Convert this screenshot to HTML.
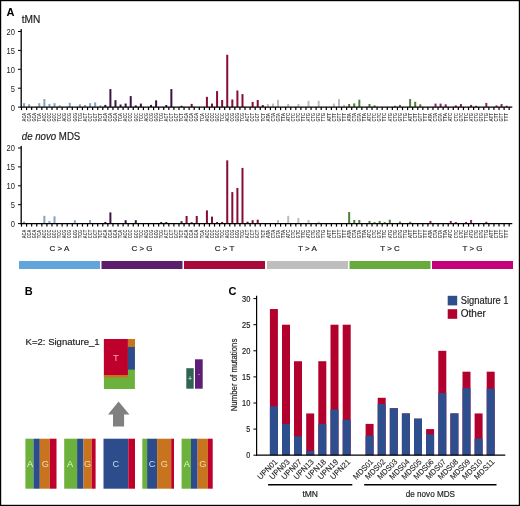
<!DOCTYPE html><html><head><meta charset="utf-8"><style>html,body{margin:0;padding:0;background:#fff}svg{display:block;will-change:transform}text{font-family:"Liberation Sans",sans-serif}.b{stroke:#222;stroke-width:0.18px}</style></head><body>
<svg width="520" height="506" viewBox="0 0 520 506">
<rect x="0" y="0" width="520" height="506" fill="#fff"/>
<text x="6.6" y="16.2" font-size="11" font-weight="bold" fill="#000">A</text>
<text class="b" x="21.7" y="23.4" font-size="10" fill="#222" textLength="18.6" lengthAdjust="spacingAndGlyphs">tMN</text>
<line x1="21.2" y1="29" x2="21.2" y2="107.69999999999999" stroke="#000" stroke-width="1.3"/>
<line x1="18" y1="107.10" x2="21" y2="107.10" stroke="#000" stroke-width="1"/>
<text x="10.80" y="110.50" font-size="9" fill="#222" textLength="4.2" lengthAdjust="spacingAndGlyphs">0</text>
<line x1="18" y1="88.20" x2="21" y2="88.20" stroke="#000" stroke-width="1"/>
<text x="10.80" y="91.60" font-size="9" fill="#222" textLength="4.2" lengthAdjust="spacingAndGlyphs">5</text>
<line x1="18" y1="69.30" x2="21" y2="69.30" stroke="#000" stroke-width="1"/>
<text x="6.60" y="72.70" font-size="9" fill="#222" textLength="8.4" lengthAdjust="spacingAndGlyphs">10</text>
<line x1="18" y1="50.40" x2="21" y2="50.40" stroke="#000" stroke-width="1"/>
<text x="6.60" y="53.80" font-size="9" fill="#222" textLength="8.4" lengthAdjust="spacingAndGlyphs">15</text>
<line x1="18" y1="31.50" x2="21" y2="31.50" stroke="#000" stroke-width="1"/>
<text x="6.60" y="34.90" font-size="9" fill="#222" textLength="8.4" lengthAdjust="spacingAndGlyphs">20</text>
<rect x="23.04" y="103.15" width="2.0" height="3.85" fill="#86a2c0"/>
<rect x="28.12" y="104.27" width="2.0" height="2.73" fill="#86a2c0"/>
<rect x="38.28" y="103.15" width="2.0" height="3.85" fill="#86a2c0"/>
<rect x="43.36" y="99.06" width="2.0" height="7.94" fill="#86a2c0"/>
<rect x="48.44" y="103.90" width="2.0" height="3.10" fill="#86a2c0"/>
<rect x="53.52" y="103.15" width="2.0" height="3.85" fill="#86a2c0"/>
<rect x="58.60" y="105.38" width="2.0" height="1.62" fill="#86a2c0"/>
<rect x="68.76" y="102.78" width="2.0" height="4.22" fill="#86a2c0"/>
<rect x="78.92" y="104.27" width="2.0" height="2.73" fill="#86a2c0"/>
<rect x="84.00" y="105.01" width="2.0" height="1.99" fill="#86a2c0"/>
<rect x="89.08" y="103.15" width="2.0" height="3.85" fill="#86a2c0"/>
<rect x="94.16" y="102.41" width="2.0" height="4.59" fill="#86a2c0"/>
<rect x="99.24" y="105.38" width="2.0" height="1.62" fill="#86a2c0"/>
<rect x="104.32" y="104.90" width="2.0" height="2.10" fill="#3a1444"/>
<rect x="109.40" y="89.09" width="2.0" height="17.91" fill="#3a1444"/>
<rect x="114.48" y="100.18" width="2.0" height="6.82" fill="#3a1444"/>
<rect x="119.56" y="104.49" width="2.0" height="2.51" fill="#3a1444"/>
<rect x="124.64" y="103.52" width="2.0" height="3.48" fill="#3a1444"/>
<rect x="129.72" y="96.08" width="2.0" height="10.92" fill="#3a1444"/>
<rect x="134.80" y="105.38" width="2.0" height="1.62" fill="#3a1444"/>
<rect x="139.88" y="103.60" width="2.0" height="3.40" fill="#3a1444"/>
<rect x="150.04" y="104.90" width="2.0" height="2.10" fill="#3a1444"/>
<rect x="155.12" y="100.36" width="2.0" height="6.64" fill="#3a1444"/>
<rect x="165.28" y="105.01" width="2.0" height="1.99" fill="#3a1444"/>
<rect x="170.36" y="89.09" width="2.0" height="17.91" fill="#3a1444"/>
<rect x="180.52" y="105.76" width="2.0" height="1.24" fill="#3a1444"/>
<rect x="190.68" y="103.90" width="2.0" height="3.10" fill="#880c34"/>
<rect x="205.92" y="96.83" width="2.0" height="10.17" fill="#880c34"/>
<rect x="211.00" y="103.60" width="2.0" height="3.40" fill="#880c34"/>
<rect x="216.08" y="91.10" width="2.0" height="15.90" fill="#880c34"/>
<rect x="221.16" y="99.99" width="2.0" height="7.01" fill="#880c34"/>
<rect x="226.24" y="54.79" width="2.0" height="52.21" fill="#880c34"/>
<rect x="231.32" y="99.51" width="2.0" height="7.49" fill="#880c34"/>
<rect x="236.40" y="90.50" width="2.0" height="16.50" fill="#880c34"/>
<rect x="241.48" y="94.11" width="2.0" height="12.89" fill="#880c34"/>
<rect x="251.64" y="101.89" width="2.0" height="5.11" fill="#880c34"/>
<rect x="256.72" y="99.99" width="2.0" height="7.01" fill="#880c34"/>
<rect x="261.80" y="105.09" width="2.0" height="1.91" fill="#880c34"/>
<rect x="266.88" y="104.01" width="2.0" height="2.99" fill="#bcbcbc"/>
<rect x="271.96" y="103.60" width="2.0" height="3.40" fill="#bcbcbc"/>
<rect x="277.04" y="99.80" width="2.0" height="7.20" fill="#bcbcbc"/>
<rect x="287.20" y="104.01" width="2.0" height="2.99" fill="#bcbcbc"/>
<rect x="297.36" y="104.01" width="2.0" height="2.99" fill="#bcbcbc"/>
<rect x="307.52" y="100.81" width="2.0" height="6.19" fill="#bcbcbc"/>
<rect x="317.68" y="100.81" width="2.0" height="6.19" fill="#bcbcbc"/>
<rect x="332.92" y="103.60" width="2.0" height="3.40" fill="#bcbcbc"/>
<rect x="338.00" y="99.06" width="2.0" height="7.94" fill="#bcbcbc"/>
<rect x="343.08" y="104.90" width="2.0" height="2.10" fill="#bcbcbc"/>
<rect x="348.16" y="104.01" width="2.0" height="2.99" fill="#4f7f3c"/>
<rect x="353.24" y="103.41" width="2.0" height="3.59" fill="#4f7f3c"/>
<rect x="358.32" y="99.69" width="2.0" height="7.31" fill="#4f7f3c"/>
<rect x="368.48" y="104.01" width="2.0" height="2.99" fill="#4f7f3c"/>
<rect x="373.56" y="105.31" width="2.0" height="1.69" fill="#4f7f3c"/>
<rect x="393.88" y="105.76" width="2.0" height="1.24" fill="#4f7f3c"/>
<rect x="398.96" y="104.90" width="2.0" height="2.10" fill="#4f7f3c"/>
<rect x="409.12" y="99.06" width="2.0" height="7.94" fill="#4f7f3c"/>
<rect x="414.20" y="101.78" width="2.0" height="5.22" fill="#4f7f3c"/>
<rect x="419.28" y="104.27" width="2.0" height="2.73" fill="#4f7f3c"/>
<rect x="434.52" y="103.60" width="2.0" height="3.40" fill="#8e2266"/>
<rect x="439.60" y="103.60" width="2.0" height="3.40" fill="#8e2266"/>
<rect x="444.68" y="104.27" width="2.0" height="2.73" fill="#8e2266"/>
<rect x="454.84" y="105.38" width="2.0" height="1.62" fill="#8e2266"/>
<rect x="459.92" y="104.01" width="2.0" height="2.99" fill="#8e2266"/>
<rect x="470.08" y="104.90" width="2.0" height="2.10" fill="#8e2266"/>
<rect x="475.16" y="105.76" width="2.0" height="1.24" fill="#8e2266"/>
<rect x="485.32" y="102.89" width="2.0" height="4.11" fill="#8e2266"/>
<rect x="495.48" y="105.38" width="2.0" height="1.62" fill="#8e2266"/>
<rect x="500.56" y="104.01" width="2.0" height="2.99" fill="#8e2266"/>
<rect x="505.64" y="105.76" width="2.0" height="1.24" fill="#8e2266"/>
<line x1="20.6" y1="107.1" x2="512.3" y2="107.1" stroke="#000" stroke-width="1.3"/>
<line x1="21.50" y1="107.1" x2="21.50" y2="110.1" stroke="#000" stroke-width="1.2"/>
<line x1="26.58" y1="107.1" x2="26.58" y2="110.1" stroke="#000" stroke-width="1.2"/>
<line x1="31.66" y1="107.1" x2="31.66" y2="110.1" stroke="#000" stroke-width="1.2"/>
<line x1="36.74" y1="107.1" x2="36.74" y2="110.1" stroke="#000" stroke-width="1.2"/>
<line x1="41.82" y1="107.1" x2="41.82" y2="110.1" stroke="#000" stroke-width="1.2"/>
<line x1="46.90" y1="107.1" x2="46.90" y2="110.1" stroke="#000" stroke-width="1.2"/>
<line x1="51.98" y1="107.1" x2="51.98" y2="110.1" stroke="#000" stroke-width="1.2"/>
<line x1="57.06" y1="107.1" x2="57.06" y2="110.1" stroke="#000" stroke-width="1.2"/>
<line x1="62.14" y1="107.1" x2="62.14" y2="110.1" stroke="#000" stroke-width="1.2"/>
<line x1="67.22" y1="107.1" x2="67.22" y2="110.1" stroke="#000" stroke-width="1.2"/>
<line x1="72.30" y1="107.1" x2="72.30" y2="110.1" stroke="#000" stroke-width="1.2"/>
<line x1="77.38" y1="107.1" x2="77.38" y2="110.1" stroke="#000" stroke-width="1.2"/>
<line x1="82.46" y1="107.1" x2="82.46" y2="110.1" stroke="#000" stroke-width="1.2"/>
<line x1="87.54" y1="107.1" x2="87.54" y2="110.1" stroke="#000" stroke-width="1.2"/>
<line x1="92.62" y1="107.1" x2="92.62" y2="110.1" stroke="#000" stroke-width="1.2"/>
<line x1="97.70" y1="107.1" x2="97.70" y2="110.1" stroke="#000" stroke-width="1.2"/>
<line x1="102.78" y1="107.1" x2="102.78" y2="110.1" stroke="#000" stroke-width="1.2"/>
<line x1="107.86" y1="107.1" x2="107.86" y2="110.1" stroke="#000" stroke-width="1.2"/>
<line x1="112.94" y1="107.1" x2="112.94" y2="110.1" stroke="#000" stroke-width="1.2"/>
<line x1="118.02" y1="107.1" x2="118.02" y2="110.1" stroke="#000" stroke-width="1.2"/>
<line x1="123.10" y1="107.1" x2="123.10" y2="110.1" stroke="#000" stroke-width="1.2"/>
<line x1="128.18" y1="107.1" x2="128.18" y2="110.1" stroke="#000" stroke-width="1.2"/>
<line x1="133.26" y1="107.1" x2="133.26" y2="110.1" stroke="#000" stroke-width="1.2"/>
<line x1="138.34" y1="107.1" x2="138.34" y2="110.1" stroke="#000" stroke-width="1.2"/>
<line x1="143.42" y1="107.1" x2="143.42" y2="110.1" stroke="#000" stroke-width="1.2"/>
<line x1="148.50" y1="107.1" x2="148.50" y2="110.1" stroke="#000" stroke-width="1.2"/>
<line x1="153.58" y1="107.1" x2="153.58" y2="110.1" stroke="#000" stroke-width="1.2"/>
<line x1="158.66" y1="107.1" x2="158.66" y2="110.1" stroke="#000" stroke-width="1.2"/>
<line x1="163.74" y1="107.1" x2="163.74" y2="110.1" stroke="#000" stroke-width="1.2"/>
<line x1="168.82" y1="107.1" x2="168.82" y2="110.1" stroke="#000" stroke-width="1.2"/>
<line x1="173.90" y1="107.1" x2="173.90" y2="110.1" stroke="#000" stroke-width="1.2"/>
<line x1="178.98" y1="107.1" x2="178.98" y2="110.1" stroke="#000" stroke-width="1.2"/>
<line x1="184.06" y1="107.1" x2="184.06" y2="110.1" stroke="#000" stroke-width="1.2"/>
<line x1="189.14" y1="107.1" x2="189.14" y2="110.1" stroke="#000" stroke-width="1.2"/>
<line x1="194.22" y1="107.1" x2="194.22" y2="110.1" stroke="#000" stroke-width="1.2"/>
<line x1="199.30" y1="107.1" x2="199.30" y2="110.1" stroke="#000" stroke-width="1.2"/>
<line x1="204.38" y1="107.1" x2="204.38" y2="110.1" stroke="#000" stroke-width="1.2"/>
<line x1="209.46" y1="107.1" x2="209.46" y2="110.1" stroke="#000" stroke-width="1.2"/>
<line x1="214.54" y1="107.1" x2="214.54" y2="110.1" stroke="#000" stroke-width="1.2"/>
<line x1="219.62" y1="107.1" x2="219.62" y2="110.1" stroke="#000" stroke-width="1.2"/>
<line x1="224.70" y1="107.1" x2="224.70" y2="110.1" stroke="#000" stroke-width="1.2"/>
<line x1="229.78" y1="107.1" x2="229.78" y2="110.1" stroke="#000" stroke-width="1.2"/>
<line x1="234.86" y1="107.1" x2="234.86" y2="110.1" stroke="#000" stroke-width="1.2"/>
<line x1="239.94" y1="107.1" x2="239.94" y2="110.1" stroke="#000" stroke-width="1.2"/>
<line x1="245.02" y1="107.1" x2="245.02" y2="110.1" stroke="#000" stroke-width="1.2"/>
<line x1="250.10" y1="107.1" x2="250.10" y2="110.1" stroke="#000" stroke-width="1.2"/>
<line x1="255.18" y1="107.1" x2="255.18" y2="110.1" stroke="#000" stroke-width="1.2"/>
<line x1="260.26" y1="107.1" x2="260.26" y2="110.1" stroke="#000" stroke-width="1.2"/>
<line x1="265.34" y1="107.1" x2="265.34" y2="110.1" stroke="#000" stroke-width="1.2"/>
<line x1="270.42" y1="107.1" x2="270.42" y2="110.1" stroke="#000" stroke-width="1.2"/>
<line x1="275.50" y1="107.1" x2="275.50" y2="110.1" stroke="#000" stroke-width="1.2"/>
<line x1="280.58" y1="107.1" x2="280.58" y2="110.1" stroke="#000" stroke-width="1.2"/>
<line x1="285.66" y1="107.1" x2="285.66" y2="110.1" stroke="#000" stroke-width="1.2"/>
<line x1="290.74" y1="107.1" x2="290.74" y2="110.1" stroke="#000" stroke-width="1.2"/>
<line x1="295.82" y1="107.1" x2="295.82" y2="110.1" stroke="#000" stroke-width="1.2"/>
<line x1="300.90" y1="107.1" x2="300.90" y2="110.1" stroke="#000" stroke-width="1.2"/>
<line x1="305.98" y1="107.1" x2="305.98" y2="110.1" stroke="#000" stroke-width="1.2"/>
<line x1="311.06" y1="107.1" x2="311.06" y2="110.1" stroke="#000" stroke-width="1.2"/>
<line x1="316.14" y1="107.1" x2="316.14" y2="110.1" stroke="#000" stroke-width="1.2"/>
<line x1="321.22" y1="107.1" x2="321.22" y2="110.1" stroke="#000" stroke-width="1.2"/>
<line x1="326.30" y1="107.1" x2="326.30" y2="110.1" stroke="#000" stroke-width="1.2"/>
<line x1="331.38" y1="107.1" x2="331.38" y2="110.1" stroke="#000" stroke-width="1.2"/>
<line x1="336.46" y1="107.1" x2="336.46" y2="110.1" stroke="#000" stroke-width="1.2"/>
<line x1="341.54" y1="107.1" x2="341.54" y2="110.1" stroke="#000" stroke-width="1.2"/>
<line x1="346.62" y1="107.1" x2="346.62" y2="110.1" stroke="#000" stroke-width="1.2"/>
<line x1="351.70" y1="107.1" x2="351.70" y2="110.1" stroke="#000" stroke-width="1.2"/>
<line x1="356.78" y1="107.1" x2="356.78" y2="110.1" stroke="#000" stroke-width="1.2"/>
<line x1="361.86" y1="107.1" x2="361.86" y2="110.1" stroke="#000" stroke-width="1.2"/>
<line x1="366.94" y1="107.1" x2="366.94" y2="110.1" stroke="#000" stroke-width="1.2"/>
<line x1="372.02" y1="107.1" x2="372.02" y2="110.1" stroke="#000" stroke-width="1.2"/>
<line x1="377.10" y1="107.1" x2="377.10" y2="110.1" stroke="#000" stroke-width="1.2"/>
<line x1="382.18" y1="107.1" x2="382.18" y2="110.1" stroke="#000" stroke-width="1.2"/>
<line x1="387.26" y1="107.1" x2="387.26" y2="110.1" stroke="#000" stroke-width="1.2"/>
<line x1="392.34" y1="107.1" x2="392.34" y2="110.1" stroke="#000" stroke-width="1.2"/>
<line x1="397.42" y1="107.1" x2="397.42" y2="110.1" stroke="#000" stroke-width="1.2"/>
<line x1="402.50" y1="107.1" x2="402.50" y2="110.1" stroke="#000" stroke-width="1.2"/>
<line x1="407.58" y1="107.1" x2="407.58" y2="110.1" stroke="#000" stroke-width="1.2"/>
<line x1="412.66" y1="107.1" x2="412.66" y2="110.1" stroke="#000" stroke-width="1.2"/>
<line x1="417.74" y1="107.1" x2="417.74" y2="110.1" stroke="#000" stroke-width="1.2"/>
<line x1="422.82" y1="107.1" x2="422.82" y2="110.1" stroke="#000" stroke-width="1.2"/>
<line x1="427.90" y1="107.1" x2="427.90" y2="110.1" stroke="#000" stroke-width="1.2"/>
<line x1="432.98" y1="107.1" x2="432.98" y2="110.1" stroke="#000" stroke-width="1.2"/>
<line x1="438.06" y1="107.1" x2="438.06" y2="110.1" stroke="#000" stroke-width="1.2"/>
<line x1="443.14" y1="107.1" x2="443.14" y2="110.1" stroke="#000" stroke-width="1.2"/>
<line x1="448.22" y1="107.1" x2="448.22" y2="110.1" stroke="#000" stroke-width="1.2"/>
<line x1="453.30" y1="107.1" x2="453.30" y2="110.1" stroke="#000" stroke-width="1.2"/>
<line x1="458.38" y1="107.1" x2="458.38" y2="110.1" stroke="#000" stroke-width="1.2"/>
<line x1="463.46" y1="107.1" x2="463.46" y2="110.1" stroke="#000" stroke-width="1.2"/>
<line x1="468.54" y1="107.1" x2="468.54" y2="110.1" stroke="#000" stroke-width="1.2"/>
<line x1="473.62" y1="107.1" x2="473.62" y2="110.1" stroke="#000" stroke-width="1.2"/>
<line x1="478.70" y1="107.1" x2="478.70" y2="110.1" stroke="#000" stroke-width="1.2"/>
<line x1="483.78" y1="107.1" x2="483.78" y2="110.1" stroke="#000" stroke-width="1.2"/>
<line x1="488.86" y1="107.1" x2="488.86" y2="110.1" stroke="#000" stroke-width="1.2"/>
<line x1="493.94" y1="107.1" x2="493.94" y2="110.1" stroke="#000" stroke-width="1.2"/>
<line x1="499.02" y1="107.1" x2="499.02" y2="110.1" stroke="#000" stroke-width="1.2"/>
<line x1="504.10" y1="107.1" x2="504.10" y2="110.1" stroke="#000" stroke-width="1.2"/>
<line x1="509.18" y1="107.1" x2="509.18" y2="110.1" stroke="#000" stroke-width="1.2"/>
<text transform="translate(25.74,113) rotate(-90)" text-anchor="end" font-size="5" font-weight="bold" fill="#444" textLength="8.4" lengthAdjust="spacingAndGlyphs">ACA</text>
<text transform="translate(30.82,113) rotate(-90)" text-anchor="end" font-size="5" font-weight="bold" fill="#444" textLength="8.4" lengthAdjust="spacingAndGlyphs">CCA</text>
<text transform="translate(35.90,113) rotate(-90)" text-anchor="end" font-size="5" font-weight="bold" fill="#444" textLength="8.4" lengthAdjust="spacingAndGlyphs">GCA</text>
<text transform="translate(40.98,113) rotate(-90)" text-anchor="end" font-size="5" font-weight="bold" fill="#444" textLength="8.4" lengthAdjust="spacingAndGlyphs">TCA</text>
<text transform="translate(46.06,113) rotate(-90)" text-anchor="end" font-size="5" font-weight="bold" fill="#444" textLength="8.4" lengthAdjust="spacingAndGlyphs">ACC</text>
<text transform="translate(51.14,113) rotate(-90)" text-anchor="end" font-size="5" font-weight="bold" fill="#444" textLength="8.4" lengthAdjust="spacingAndGlyphs">CCC</text>
<text transform="translate(56.22,113) rotate(-90)" text-anchor="end" font-size="5" font-weight="bold" fill="#444" textLength="8.4" lengthAdjust="spacingAndGlyphs">GCC</text>
<text transform="translate(61.30,113) rotate(-90)" text-anchor="end" font-size="5" font-weight="bold" fill="#444" textLength="8.4" lengthAdjust="spacingAndGlyphs">TCC</text>
<text transform="translate(66.38,113) rotate(-90)" text-anchor="end" font-size="5" font-weight="bold" fill="#444" textLength="8.4" lengthAdjust="spacingAndGlyphs">ACG</text>
<text transform="translate(71.46,113) rotate(-90)" text-anchor="end" font-size="5" font-weight="bold" fill="#444" textLength="8.4" lengthAdjust="spacingAndGlyphs">CCG</text>
<text transform="translate(76.54,113) rotate(-90)" text-anchor="end" font-size="5" font-weight="bold" fill="#444" textLength="8.4" lengthAdjust="spacingAndGlyphs">GCG</text>
<text transform="translate(81.62,113) rotate(-90)" text-anchor="end" font-size="5" font-weight="bold" fill="#444" textLength="8.4" lengthAdjust="spacingAndGlyphs">TCG</text>
<text transform="translate(86.70,113) rotate(-90)" text-anchor="end" font-size="5" font-weight="bold" fill="#444" textLength="8.4" lengthAdjust="spacingAndGlyphs">ACT</text>
<text transform="translate(91.78,113) rotate(-90)" text-anchor="end" font-size="5" font-weight="bold" fill="#444" textLength="8.4" lengthAdjust="spacingAndGlyphs">CCT</text>
<text transform="translate(96.86,113) rotate(-90)" text-anchor="end" font-size="5" font-weight="bold" fill="#444" textLength="8.4" lengthAdjust="spacingAndGlyphs">GCT</text>
<text transform="translate(101.94,113) rotate(-90)" text-anchor="end" font-size="5" font-weight="bold" fill="#444" textLength="8.4" lengthAdjust="spacingAndGlyphs">TCT</text>
<text transform="translate(107.02,113) rotate(-90)" text-anchor="end" font-size="5" font-weight="bold" fill="#444" textLength="8.4" lengthAdjust="spacingAndGlyphs">ACA</text>
<text transform="translate(112.10,113) rotate(-90)" text-anchor="end" font-size="5" font-weight="bold" fill="#444" textLength="8.4" lengthAdjust="spacingAndGlyphs">CCA</text>
<text transform="translate(117.18,113) rotate(-90)" text-anchor="end" font-size="5" font-weight="bold" fill="#444" textLength="8.4" lengthAdjust="spacingAndGlyphs">GCA</text>
<text transform="translate(122.26,113) rotate(-90)" text-anchor="end" font-size="5" font-weight="bold" fill="#444" textLength="8.4" lengthAdjust="spacingAndGlyphs">TCA</text>
<text transform="translate(127.34,113) rotate(-90)" text-anchor="end" font-size="5" font-weight="bold" fill="#444" textLength="8.4" lengthAdjust="spacingAndGlyphs">ACC</text>
<text transform="translate(132.42,113) rotate(-90)" text-anchor="end" font-size="5" font-weight="bold" fill="#444" textLength="8.4" lengthAdjust="spacingAndGlyphs">CCC</text>
<text transform="translate(137.50,113) rotate(-90)" text-anchor="end" font-size="5" font-weight="bold" fill="#444" textLength="8.4" lengthAdjust="spacingAndGlyphs">GCC</text>
<text transform="translate(142.58,113) rotate(-90)" text-anchor="end" font-size="5" font-weight="bold" fill="#444" textLength="8.4" lengthAdjust="spacingAndGlyphs">TCC</text>
<text transform="translate(147.66,113) rotate(-90)" text-anchor="end" font-size="5" font-weight="bold" fill="#444" textLength="8.4" lengthAdjust="spacingAndGlyphs">ACG</text>
<text transform="translate(152.74,113) rotate(-90)" text-anchor="end" font-size="5" font-weight="bold" fill="#444" textLength="8.4" lengthAdjust="spacingAndGlyphs">CCG</text>
<text transform="translate(157.82,113) rotate(-90)" text-anchor="end" font-size="5" font-weight="bold" fill="#444" textLength="8.4" lengthAdjust="spacingAndGlyphs">GCG</text>
<text transform="translate(162.90,113) rotate(-90)" text-anchor="end" font-size="5" font-weight="bold" fill="#444" textLength="8.4" lengthAdjust="spacingAndGlyphs">TCG</text>
<text transform="translate(167.98,113) rotate(-90)" text-anchor="end" font-size="5" font-weight="bold" fill="#444" textLength="8.4" lengthAdjust="spacingAndGlyphs">ACT</text>
<text transform="translate(173.06,113) rotate(-90)" text-anchor="end" font-size="5" font-weight="bold" fill="#444" textLength="8.4" lengthAdjust="spacingAndGlyphs">CCT</text>
<text transform="translate(178.14,113) rotate(-90)" text-anchor="end" font-size="5" font-weight="bold" fill="#444" textLength="8.4" lengthAdjust="spacingAndGlyphs">GCT</text>
<text transform="translate(183.22,113) rotate(-90)" text-anchor="end" font-size="5" font-weight="bold" fill="#444" textLength="8.4" lengthAdjust="spacingAndGlyphs">TCT</text>
<text transform="translate(188.30,113) rotate(-90)" text-anchor="end" font-size="5" font-weight="bold" fill="#444" textLength="8.4" lengthAdjust="spacingAndGlyphs">ACA</text>
<text transform="translate(193.38,113) rotate(-90)" text-anchor="end" font-size="5" font-weight="bold" fill="#444" textLength="8.4" lengthAdjust="spacingAndGlyphs">CCA</text>
<text transform="translate(198.46,113) rotate(-90)" text-anchor="end" font-size="5" font-weight="bold" fill="#444" textLength="8.4" lengthAdjust="spacingAndGlyphs">GCA</text>
<text transform="translate(203.54,113) rotate(-90)" text-anchor="end" font-size="5" font-weight="bold" fill="#444" textLength="8.4" lengthAdjust="spacingAndGlyphs">TCA</text>
<text transform="translate(208.62,113) rotate(-90)" text-anchor="end" font-size="5" font-weight="bold" fill="#444" textLength="8.4" lengthAdjust="spacingAndGlyphs">ACC</text>
<text transform="translate(213.70,113) rotate(-90)" text-anchor="end" font-size="5" font-weight="bold" fill="#444" textLength="8.4" lengthAdjust="spacingAndGlyphs">CCC</text>
<text transform="translate(218.78,113) rotate(-90)" text-anchor="end" font-size="5" font-weight="bold" fill="#444" textLength="8.4" lengthAdjust="spacingAndGlyphs">GCC</text>
<text transform="translate(223.86,113) rotate(-90)" text-anchor="end" font-size="5" font-weight="bold" fill="#444" textLength="8.4" lengthAdjust="spacingAndGlyphs">TCC</text>
<text transform="translate(228.94,113) rotate(-90)" text-anchor="end" font-size="5" font-weight="bold" fill="#444" textLength="8.4" lengthAdjust="spacingAndGlyphs">ACG</text>
<text transform="translate(234.02,113) rotate(-90)" text-anchor="end" font-size="5" font-weight="bold" fill="#444" textLength="8.4" lengthAdjust="spacingAndGlyphs">CCG</text>
<text transform="translate(239.10,113) rotate(-90)" text-anchor="end" font-size="5" font-weight="bold" fill="#444" textLength="8.4" lengthAdjust="spacingAndGlyphs">GCG</text>
<text transform="translate(244.18,113) rotate(-90)" text-anchor="end" font-size="5" font-weight="bold" fill="#444" textLength="8.4" lengthAdjust="spacingAndGlyphs">TCG</text>
<text transform="translate(249.26,113) rotate(-90)" text-anchor="end" font-size="5" font-weight="bold" fill="#444" textLength="8.4" lengthAdjust="spacingAndGlyphs">ACT</text>
<text transform="translate(254.34,113) rotate(-90)" text-anchor="end" font-size="5" font-weight="bold" fill="#444" textLength="8.4" lengthAdjust="spacingAndGlyphs">CCT</text>
<text transform="translate(259.42,113) rotate(-90)" text-anchor="end" font-size="5" font-weight="bold" fill="#444" textLength="8.4" lengthAdjust="spacingAndGlyphs">GCT</text>
<text transform="translate(264.50,113) rotate(-90)" text-anchor="end" font-size="5" font-weight="bold" fill="#444" textLength="8.4" lengthAdjust="spacingAndGlyphs">TCT</text>
<text transform="translate(269.58,113) rotate(-90)" text-anchor="end" font-size="5" font-weight="bold" fill="#444" textLength="8.4" lengthAdjust="spacingAndGlyphs">ATA</text>
<text transform="translate(274.66,113) rotate(-90)" text-anchor="end" font-size="5" font-weight="bold" fill="#444" textLength="8.4" lengthAdjust="spacingAndGlyphs">CTA</text>
<text transform="translate(279.74,113) rotate(-90)" text-anchor="end" font-size="5" font-weight="bold" fill="#444" textLength="8.4" lengthAdjust="spacingAndGlyphs">GTA</text>
<text transform="translate(284.82,113) rotate(-90)" text-anchor="end" font-size="5" font-weight="bold" fill="#444" textLength="8.4" lengthAdjust="spacingAndGlyphs">TTA</text>
<text transform="translate(289.90,113) rotate(-90)" text-anchor="end" font-size="5" font-weight="bold" fill="#444" textLength="8.4" lengthAdjust="spacingAndGlyphs">ATC</text>
<text transform="translate(294.98,113) rotate(-90)" text-anchor="end" font-size="5" font-weight="bold" fill="#444" textLength="8.4" lengthAdjust="spacingAndGlyphs">CTC</text>
<text transform="translate(300.06,113) rotate(-90)" text-anchor="end" font-size="5" font-weight="bold" fill="#444" textLength="8.4" lengthAdjust="spacingAndGlyphs">GTC</text>
<text transform="translate(305.14,113) rotate(-90)" text-anchor="end" font-size="5" font-weight="bold" fill="#444" textLength="8.4" lengthAdjust="spacingAndGlyphs">TTC</text>
<text transform="translate(310.22,113) rotate(-90)" text-anchor="end" font-size="5" font-weight="bold" fill="#444" textLength="8.4" lengthAdjust="spacingAndGlyphs">ATG</text>
<text transform="translate(315.30,113) rotate(-90)" text-anchor="end" font-size="5" font-weight="bold" fill="#444" textLength="8.4" lengthAdjust="spacingAndGlyphs">CTG</text>
<text transform="translate(320.38,113) rotate(-90)" text-anchor="end" font-size="5" font-weight="bold" fill="#444" textLength="8.4" lengthAdjust="spacingAndGlyphs">GTG</text>
<text transform="translate(325.46,113) rotate(-90)" text-anchor="end" font-size="5" font-weight="bold" fill="#444" textLength="8.4" lengthAdjust="spacingAndGlyphs">TTG</text>
<text transform="translate(330.54,113) rotate(-90)" text-anchor="end" font-size="5" font-weight="bold" fill="#444" textLength="8.4" lengthAdjust="spacingAndGlyphs">ATT</text>
<text transform="translate(335.62,113) rotate(-90)" text-anchor="end" font-size="5" font-weight="bold" fill="#444" textLength="8.4" lengthAdjust="spacingAndGlyphs">CTT</text>
<text transform="translate(340.70,113) rotate(-90)" text-anchor="end" font-size="5" font-weight="bold" fill="#444" textLength="8.4" lengthAdjust="spacingAndGlyphs">GTT</text>
<text transform="translate(345.78,113) rotate(-90)" text-anchor="end" font-size="5" font-weight="bold" fill="#444" textLength="8.4" lengthAdjust="spacingAndGlyphs">TTT</text>
<text transform="translate(350.86,113) rotate(-90)" text-anchor="end" font-size="5" font-weight="bold" fill="#444" textLength="8.4" lengthAdjust="spacingAndGlyphs">ATA</text>
<text transform="translate(355.94,113) rotate(-90)" text-anchor="end" font-size="5" font-weight="bold" fill="#444" textLength="8.4" lengthAdjust="spacingAndGlyphs">CTA</text>
<text transform="translate(361.02,113) rotate(-90)" text-anchor="end" font-size="5" font-weight="bold" fill="#444" textLength="8.4" lengthAdjust="spacingAndGlyphs">GTA</text>
<text transform="translate(366.10,113) rotate(-90)" text-anchor="end" font-size="5" font-weight="bold" fill="#444" textLength="8.4" lengthAdjust="spacingAndGlyphs">TTA</text>
<text transform="translate(371.18,113) rotate(-90)" text-anchor="end" font-size="5" font-weight="bold" fill="#444" textLength="8.4" lengthAdjust="spacingAndGlyphs">ATC</text>
<text transform="translate(376.26,113) rotate(-90)" text-anchor="end" font-size="5" font-weight="bold" fill="#444" textLength="8.4" lengthAdjust="spacingAndGlyphs">CTC</text>
<text transform="translate(381.34,113) rotate(-90)" text-anchor="end" font-size="5" font-weight="bold" fill="#444" textLength="8.4" lengthAdjust="spacingAndGlyphs">GTC</text>
<text transform="translate(386.42,113) rotate(-90)" text-anchor="end" font-size="5" font-weight="bold" fill="#444" textLength="8.4" lengthAdjust="spacingAndGlyphs">TTC</text>
<text transform="translate(391.50,113) rotate(-90)" text-anchor="end" font-size="5" font-weight="bold" fill="#444" textLength="8.4" lengthAdjust="spacingAndGlyphs">ATG</text>
<text transform="translate(396.58,113) rotate(-90)" text-anchor="end" font-size="5" font-weight="bold" fill="#444" textLength="8.4" lengthAdjust="spacingAndGlyphs">CTG</text>
<text transform="translate(401.66,113) rotate(-90)" text-anchor="end" font-size="5" font-weight="bold" fill="#444" textLength="8.4" lengthAdjust="spacingAndGlyphs">GTG</text>
<text transform="translate(406.74,113) rotate(-90)" text-anchor="end" font-size="5" font-weight="bold" fill="#444" textLength="8.4" lengthAdjust="spacingAndGlyphs">TTG</text>
<text transform="translate(411.82,113) rotate(-90)" text-anchor="end" font-size="5" font-weight="bold" fill="#444" textLength="8.4" lengthAdjust="spacingAndGlyphs">ATT</text>
<text transform="translate(416.90,113) rotate(-90)" text-anchor="end" font-size="5" font-weight="bold" fill="#444" textLength="8.4" lengthAdjust="spacingAndGlyphs">CTT</text>
<text transform="translate(421.98,113) rotate(-90)" text-anchor="end" font-size="5" font-weight="bold" fill="#444" textLength="8.4" lengthAdjust="spacingAndGlyphs">GTT</text>
<text transform="translate(427.06,113) rotate(-90)" text-anchor="end" font-size="5" font-weight="bold" fill="#444" textLength="8.4" lengthAdjust="spacingAndGlyphs">TTT</text>
<text transform="translate(432.14,113) rotate(-90)" text-anchor="end" font-size="5" font-weight="bold" fill="#444" textLength="8.4" lengthAdjust="spacingAndGlyphs">ATA</text>
<text transform="translate(437.22,113) rotate(-90)" text-anchor="end" font-size="5" font-weight="bold" fill="#444" textLength="8.4" lengthAdjust="spacingAndGlyphs">CTA</text>
<text transform="translate(442.30,113) rotate(-90)" text-anchor="end" font-size="5" font-weight="bold" fill="#444" textLength="8.4" lengthAdjust="spacingAndGlyphs">GTA</text>
<text transform="translate(447.38,113) rotate(-90)" text-anchor="end" font-size="5" font-weight="bold" fill="#444" textLength="8.4" lengthAdjust="spacingAndGlyphs">TTA</text>
<text transform="translate(452.46,113) rotate(-90)" text-anchor="end" font-size="5" font-weight="bold" fill="#444" textLength="8.4" lengthAdjust="spacingAndGlyphs">ATC</text>
<text transform="translate(457.54,113) rotate(-90)" text-anchor="end" font-size="5" font-weight="bold" fill="#444" textLength="8.4" lengthAdjust="spacingAndGlyphs">CTC</text>
<text transform="translate(462.62,113) rotate(-90)" text-anchor="end" font-size="5" font-weight="bold" fill="#444" textLength="8.4" lengthAdjust="spacingAndGlyphs">GTC</text>
<text transform="translate(467.70,113) rotate(-90)" text-anchor="end" font-size="5" font-weight="bold" fill="#444" textLength="8.4" lengthAdjust="spacingAndGlyphs">TTC</text>
<text transform="translate(472.78,113) rotate(-90)" text-anchor="end" font-size="5" font-weight="bold" fill="#444" textLength="8.4" lengthAdjust="spacingAndGlyphs">ATG</text>
<text transform="translate(477.86,113) rotate(-90)" text-anchor="end" font-size="5" font-weight="bold" fill="#444" textLength="8.4" lengthAdjust="spacingAndGlyphs">CTG</text>
<text transform="translate(482.94,113) rotate(-90)" text-anchor="end" font-size="5" font-weight="bold" fill="#444" textLength="8.4" lengthAdjust="spacingAndGlyphs">GTG</text>
<text transform="translate(488.02,113) rotate(-90)" text-anchor="end" font-size="5" font-weight="bold" fill="#444" textLength="8.4" lengthAdjust="spacingAndGlyphs">TTG</text>
<text transform="translate(493.10,113) rotate(-90)" text-anchor="end" font-size="5" font-weight="bold" fill="#444" textLength="8.4" lengthAdjust="spacingAndGlyphs">ATT</text>
<text transform="translate(498.18,113) rotate(-90)" text-anchor="end" font-size="5" font-weight="bold" fill="#444" textLength="8.4" lengthAdjust="spacingAndGlyphs">CTT</text>
<text transform="translate(503.26,113) rotate(-90)" text-anchor="end" font-size="5" font-weight="bold" fill="#444" textLength="8.4" lengthAdjust="spacingAndGlyphs">GTT</text>
<text transform="translate(508.34,113) rotate(-90)" text-anchor="end" font-size="5" font-weight="bold" fill="#444" textLength="8.4" lengthAdjust="spacingAndGlyphs">TTT</text>
<text class="b" x="21.8" y="140.1" font-size="10" fill="#222" textLength="58.5" lengthAdjust="spacingAndGlyphs"><tspan font-style="italic">de novo</tspan> MDS</text>
<line x1="21.2" y1="146.0" x2="21.2" y2="224.2" stroke="#000" stroke-width="1.3"/>
<line x1="18" y1="223.60" x2="21" y2="223.60" stroke="#000" stroke-width="1"/>
<text x="10.80" y="227.00" font-size="9" fill="#222" textLength="4.2" lengthAdjust="spacingAndGlyphs">0</text>
<line x1="18" y1="204.70" x2="21" y2="204.70" stroke="#000" stroke-width="1"/>
<text x="10.80" y="208.10" font-size="9" fill="#222" textLength="4.2" lengthAdjust="spacingAndGlyphs">5</text>
<line x1="18" y1="185.80" x2="21" y2="185.80" stroke="#000" stroke-width="1"/>
<text x="6.60" y="189.20" font-size="9" fill="#222" textLength="8.4" lengthAdjust="spacingAndGlyphs">10</text>
<line x1="18" y1="166.90" x2="21" y2="166.90" stroke="#000" stroke-width="1"/>
<text x="6.60" y="170.30" font-size="9" fill="#222" textLength="8.4" lengthAdjust="spacingAndGlyphs">15</text>
<line x1="18" y1="148.00" x2="21" y2="148.00" stroke="#000" stroke-width="1"/>
<text x="6.60" y="151.40" font-size="9" fill="#222" textLength="8.4" lengthAdjust="spacingAndGlyphs">20</text>
<rect x="23.04" y="221.59" width="2.0" height="2.01" fill="#86a2c0"/>
<rect x="43.36" y="215.80" width="2.0" height="7.80" fill="#86a2c0"/>
<rect x="48.44" y="220.91" width="2.0" height="2.69" fill="#86a2c0"/>
<rect x="53.52" y="216.30" width="2.0" height="7.30" fill="#86a2c0"/>
<rect x="73.84" y="220.19" width="2.0" height="3.41" fill="#86a2c0"/>
<rect x="89.08" y="220.00" width="2.0" height="3.60" fill="#86a2c0"/>
<rect x="104.32" y="221.97" width="2.0" height="1.63" fill="#3a1444"/>
<rect x="109.40" y="212.40" width="2.0" height="11.20" fill="#3a1444"/>
<rect x="124.64" y="220.19" width="2.0" height="3.41" fill="#3a1444"/>
<rect x="134.80" y="220.19" width="2.0" height="3.41" fill="#3a1444"/>
<rect x="160.20" y="222.08" width="2.0" height="1.52" fill="#3a1444"/>
<rect x="165.28" y="222.08" width="2.0" height="1.52" fill="#3a1444"/>
<rect x="180.52" y="221.21" width="2.0" height="2.39" fill="#3a1444"/>
<rect x="185.60" y="215.99" width="2.0" height="7.61" fill="#880c34"/>
<rect x="190.68" y="222.16" width="2.0" height="1.44" fill="#880c34"/>
<rect x="195.76" y="215.99" width="2.0" height="7.61" fill="#880c34"/>
<rect x="205.92" y="210.40" width="2.0" height="13.20" fill="#880c34"/>
<rect x="211.00" y="216.60" width="2.0" height="7.00" fill="#880c34"/>
<rect x="216.08" y="221.97" width="2.0" height="1.63" fill="#880c34"/>
<rect x="221.16" y="221.97" width="2.0" height="1.63" fill="#880c34"/>
<rect x="226.24" y="160.35" width="2.0" height="63.25" fill="#880c34"/>
<rect x="231.32" y="192.10" width="2.0" height="31.50" fill="#880c34"/>
<rect x="236.40" y="187.95" width="2.0" height="35.65" fill="#880c34"/>
<rect x="241.48" y="167.91" width="2.0" height="55.69" fill="#880c34"/>
<rect x="246.56" y="221.70" width="2.0" height="1.90" fill="#880c34"/>
<rect x="251.64" y="220.19" width="2.0" height="3.41" fill="#880c34"/>
<rect x="256.72" y="219.70" width="2.0" height="3.90" fill="#880c34"/>
<rect x="277.04" y="220.00" width="2.0" height="3.60" fill="#bcbcbc"/>
<rect x="287.20" y="215.80" width="2.0" height="7.80" fill="#bcbcbc"/>
<rect x="297.36" y="218.00" width="2.0" height="5.60" fill="#bcbcbc"/>
<rect x="307.52" y="220.00" width="2.0" height="3.60" fill="#bcbcbc"/>
<rect x="317.68" y="221.51" width="2.0" height="2.09" fill="#bcbcbc"/>
<rect x="348.16" y="211.99" width="2.0" height="11.61" fill="#4f7f3c"/>
<rect x="353.24" y="220.00" width="2.0" height="3.60" fill="#4f7f3c"/>
<rect x="358.32" y="220.00" width="2.0" height="3.60" fill="#4f7f3c"/>
<rect x="368.48" y="220.91" width="2.0" height="2.69" fill="#4f7f3c"/>
<rect x="373.56" y="222.08" width="2.0" height="1.52" fill="#4f7f3c"/>
<rect x="378.64" y="220.91" width="2.0" height="2.69" fill="#4f7f3c"/>
<rect x="383.72" y="222.08" width="2.0" height="1.52" fill="#4f7f3c"/>
<rect x="388.80" y="219.70" width="2.0" height="3.90" fill="#4f7f3c"/>
<rect x="398.96" y="221.51" width="2.0" height="2.09" fill="#4f7f3c"/>
<rect x="409.12" y="221.78" width="2.0" height="1.82" fill="#4f7f3c"/>
<rect x="429.44" y="220.91" width="2.0" height="2.69" fill="#8e2266"/>
<rect x="449.76" y="220.91" width="2.0" height="2.69" fill="#8e2266"/>
<rect x="454.84" y="221.97" width="2.0" height="1.63" fill="#8e2266"/>
<rect x="465.00" y="221.97" width="2.0" height="1.63" fill="#8e2266"/>
<rect x="470.08" y="220.00" width="2.0" height="3.60" fill="#8e2266"/>
<rect x="485.32" y="221.78" width="2.0" height="1.82" fill="#8e2266"/>
<line x1="20.6" y1="223.6" x2="512.3" y2="223.6" stroke="#000" stroke-width="1.3"/>
<line x1="21.50" y1="223.6" x2="21.50" y2="226.6" stroke="#000" stroke-width="1.2"/>
<line x1="26.58" y1="223.6" x2="26.58" y2="226.6" stroke="#000" stroke-width="1.2"/>
<line x1="31.66" y1="223.6" x2="31.66" y2="226.6" stroke="#000" stroke-width="1.2"/>
<line x1="36.74" y1="223.6" x2="36.74" y2="226.6" stroke="#000" stroke-width="1.2"/>
<line x1="41.82" y1="223.6" x2="41.82" y2="226.6" stroke="#000" stroke-width="1.2"/>
<line x1="46.90" y1="223.6" x2="46.90" y2="226.6" stroke="#000" stroke-width="1.2"/>
<line x1="51.98" y1="223.6" x2="51.98" y2="226.6" stroke="#000" stroke-width="1.2"/>
<line x1="57.06" y1="223.6" x2="57.06" y2="226.6" stroke="#000" stroke-width="1.2"/>
<line x1="62.14" y1="223.6" x2="62.14" y2="226.6" stroke="#000" stroke-width="1.2"/>
<line x1="67.22" y1="223.6" x2="67.22" y2="226.6" stroke="#000" stroke-width="1.2"/>
<line x1="72.30" y1="223.6" x2="72.30" y2="226.6" stroke="#000" stroke-width="1.2"/>
<line x1="77.38" y1="223.6" x2="77.38" y2="226.6" stroke="#000" stroke-width="1.2"/>
<line x1="82.46" y1="223.6" x2="82.46" y2="226.6" stroke="#000" stroke-width="1.2"/>
<line x1="87.54" y1="223.6" x2="87.54" y2="226.6" stroke="#000" stroke-width="1.2"/>
<line x1="92.62" y1="223.6" x2="92.62" y2="226.6" stroke="#000" stroke-width="1.2"/>
<line x1="97.70" y1="223.6" x2="97.70" y2="226.6" stroke="#000" stroke-width="1.2"/>
<line x1="102.78" y1="223.6" x2="102.78" y2="226.6" stroke="#000" stroke-width="1.2"/>
<line x1="107.86" y1="223.6" x2="107.86" y2="226.6" stroke="#000" stroke-width="1.2"/>
<line x1="112.94" y1="223.6" x2="112.94" y2="226.6" stroke="#000" stroke-width="1.2"/>
<line x1="118.02" y1="223.6" x2="118.02" y2="226.6" stroke="#000" stroke-width="1.2"/>
<line x1="123.10" y1="223.6" x2="123.10" y2="226.6" stroke="#000" stroke-width="1.2"/>
<line x1="128.18" y1="223.6" x2="128.18" y2="226.6" stroke="#000" stroke-width="1.2"/>
<line x1="133.26" y1="223.6" x2="133.26" y2="226.6" stroke="#000" stroke-width="1.2"/>
<line x1="138.34" y1="223.6" x2="138.34" y2="226.6" stroke="#000" stroke-width="1.2"/>
<line x1="143.42" y1="223.6" x2="143.42" y2="226.6" stroke="#000" stroke-width="1.2"/>
<line x1="148.50" y1="223.6" x2="148.50" y2="226.6" stroke="#000" stroke-width="1.2"/>
<line x1="153.58" y1="223.6" x2="153.58" y2="226.6" stroke="#000" stroke-width="1.2"/>
<line x1="158.66" y1="223.6" x2="158.66" y2="226.6" stroke="#000" stroke-width="1.2"/>
<line x1="163.74" y1="223.6" x2="163.74" y2="226.6" stroke="#000" stroke-width="1.2"/>
<line x1="168.82" y1="223.6" x2="168.82" y2="226.6" stroke="#000" stroke-width="1.2"/>
<line x1="173.90" y1="223.6" x2="173.90" y2="226.6" stroke="#000" stroke-width="1.2"/>
<line x1="178.98" y1="223.6" x2="178.98" y2="226.6" stroke="#000" stroke-width="1.2"/>
<line x1="184.06" y1="223.6" x2="184.06" y2="226.6" stroke="#000" stroke-width="1.2"/>
<line x1="189.14" y1="223.6" x2="189.14" y2="226.6" stroke="#000" stroke-width="1.2"/>
<line x1="194.22" y1="223.6" x2="194.22" y2="226.6" stroke="#000" stroke-width="1.2"/>
<line x1="199.30" y1="223.6" x2="199.30" y2="226.6" stroke="#000" stroke-width="1.2"/>
<line x1="204.38" y1="223.6" x2="204.38" y2="226.6" stroke="#000" stroke-width="1.2"/>
<line x1="209.46" y1="223.6" x2="209.46" y2="226.6" stroke="#000" stroke-width="1.2"/>
<line x1="214.54" y1="223.6" x2="214.54" y2="226.6" stroke="#000" stroke-width="1.2"/>
<line x1="219.62" y1="223.6" x2="219.62" y2="226.6" stroke="#000" stroke-width="1.2"/>
<line x1="224.70" y1="223.6" x2="224.70" y2="226.6" stroke="#000" stroke-width="1.2"/>
<line x1="229.78" y1="223.6" x2="229.78" y2="226.6" stroke="#000" stroke-width="1.2"/>
<line x1="234.86" y1="223.6" x2="234.86" y2="226.6" stroke="#000" stroke-width="1.2"/>
<line x1="239.94" y1="223.6" x2="239.94" y2="226.6" stroke="#000" stroke-width="1.2"/>
<line x1="245.02" y1="223.6" x2="245.02" y2="226.6" stroke="#000" stroke-width="1.2"/>
<line x1="250.10" y1="223.6" x2="250.10" y2="226.6" stroke="#000" stroke-width="1.2"/>
<line x1="255.18" y1="223.6" x2="255.18" y2="226.6" stroke="#000" stroke-width="1.2"/>
<line x1="260.26" y1="223.6" x2="260.26" y2="226.6" stroke="#000" stroke-width="1.2"/>
<line x1="265.34" y1="223.6" x2="265.34" y2="226.6" stroke="#000" stroke-width="1.2"/>
<line x1="270.42" y1="223.6" x2="270.42" y2="226.6" stroke="#000" stroke-width="1.2"/>
<line x1="275.50" y1="223.6" x2="275.50" y2="226.6" stroke="#000" stroke-width="1.2"/>
<line x1="280.58" y1="223.6" x2="280.58" y2="226.6" stroke="#000" stroke-width="1.2"/>
<line x1="285.66" y1="223.6" x2="285.66" y2="226.6" stroke="#000" stroke-width="1.2"/>
<line x1="290.74" y1="223.6" x2="290.74" y2="226.6" stroke="#000" stroke-width="1.2"/>
<line x1="295.82" y1="223.6" x2="295.82" y2="226.6" stroke="#000" stroke-width="1.2"/>
<line x1="300.90" y1="223.6" x2="300.90" y2="226.6" stroke="#000" stroke-width="1.2"/>
<line x1="305.98" y1="223.6" x2="305.98" y2="226.6" stroke="#000" stroke-width="1.2"/>
<line x1="311.06" y1="223.6" x2="311.06" y2="226.6" stroke="#000" stroke-width="1.2"/>
<line x1="316.14" y1="223.6" x2="316.14" y2="226.6" stroke="#000" stroke-width="1.2"/>
<line x1="321.22" y1="223.6" x2="321.22" y2="226.6" stroke="#000" stroke-width="1.2"/>
<line x1="326.30" y1="223.6" x2="326.30" y2="226.6" stroke="#000" stroke-width="1.2"/>
<line x1="331.38" y1="223.6" x2="331.38" y2="226.6" stroke="#000" stroke-width="1.2"/>
<line x1="336.46" y1="223.6" x2="336.46" y2="226.6" stroke="#000" stroke-width="1.2"/>
<line x1="341.54" y1="223.6" x2="341.54" y2="226.6" stroke="#000" stroke-width="1.2"/>
<line x1="346.62" y1="223.6" x2="346.62" y2="226.6" stroke="#000" stroke-width="1.2"/>
<line x1="351.70" y1="223.6" x2="351.70" y2="226.6" stroke="#000" stroke-width="1.2"/>
<line x1="356.78" y1="223.6" x2="356.78" y2="226.6" stroke="#000" stroke-width="1.2"/>
<line x1="361.86" y1="223.6" x2="361.86" y2="226.6" stroke="#000" stroke-width="1.2"/>
<line x1="366.94" y1="223.6" x2="366.94" y2="226.6" stroke="#000" stroke-width="1.2"/>
<line x1="372.02" y1="223.6" x2="372.02" y2="226.6" stroke="#000" stroke-width="1.2"/>
<line x1="377.10" y1="223.6" x2="377.10" y2="226.6" stroke="#000" stroke-width="1.2"/>
<line x1="382.18" y1="223.6" x2="382.18" y2="226.6" stroke="#000" stroke-width="1.2"/>
<line x1="387.26" y1="223.6" x2="387.26" y2="226.6" stroke="#000" stroke-width="1.2"/>
<line x1="392.34" y1="223.6" x2="392.34" y2="226.6" stroke="#000" stroke-width="1.2"/>
<line x1="397.42" y1="223.6" x2="397.42" y2="226.6" stroke="#000" stroke-width="1.2"/>
<line x1="402.50" y1="223.6" x2="402.50" y2="226.6" stroke="#000" stroke-width="1.2"/>
<line x1="407.58" y1="223.6" x2="407.58" y2="226.6" stroke="#000" stroke-width="1.2"/>
<line x1="412.66" y1="223.6" x2="412.66" y2="226.6" stroke="#000" stroke-width="1.2"/>
<line x1="417.74" y1="223.6" x2="417.74" y2="226.6" stroke="#000" stroke-width="1.2"/>
<line x1="422.82" y1="223.6" x2="422.82" y2="226.6" stroke="#000" stroke-width="1.2"/>
<line x1="427.90" y1="223.6" x2="427.90" y2="226.6" stroke="#000" stroke-width="1.2"/>
<line x1="432.98" y1="223.6" x2="432.98" y2="226.6" stroke="#000" stroke-width="1.2"/>
<line x1="438.06" y1="223.6" x2="438.06" y2="226.6" stroke="#000" stroke-width="1.2"/>
<line x1="443.14" y1="223.6" x2="443.14" y2="226.6" stroke="#000" stroke-width="1.2"/>
<line x1="448.22" y1="223.6" x2="448.22" y2="226.6" stroke="#000" stroke-width="1.2"/>
<line x1="453.30" y1="223.6" x2="453.30" y2="226.6" stroke="#000" stroke-width="1.2"/>
<line x1="458.38" y1="223.6" x2="458.38" y2="226.6" stroke="#000" stroke-width="1.2"/>
<line x1="463.46" y1="223.6" x2="463.46" y2="226.6" stroke="#000" stroke-width="1.2"/>
<line x1="468.54" y1="223.6" x2="468.54" y2="226.6" stroke="#000" stroke-width="1.2"/>
<line x1="473.62" y1="223.6" x2="473.62" y2="226.6" stroke="#000" stroke-width="1.2"/>
<line x1="478.70" y1="223.6" x2="478.70" y2="226.6" stroke="#000" stroke-width="1.2"/>
<line x1="483.78" y1="223.6" x2="483.78" y2="226.6" stroke="#000" stroke-width="1.2"/>
<line x1="488.86" y1="223.6" x2="488.86" y2="226.6" stroke="#000" stroke-width="1.2"/>
<line x1="493.94" y1="223.6" x2="493.94" y2="226.6" stroke="#000" stroke-width="1.2"/>
<line x1="499.02" y1="223.6" x2="499.02" y2="226.6" stroke="#000" stroke-width="1.2"/>
<line x1="504.10" y1="223.6" x2="504.10" y2="226.6" stroke="#000" stroke-width="1.2"/>
<line x1="509.18" y1="223.6" x2="509.18" y2="226.6" stroke="#000" stroke-width="1.2"/>
<text transform="translate(25.74,229.8) rotate(-90)" text-anchor="end" font-size="5" font-weight="bold" fill="#444" textLength="8.4" lengthAdjust="spacingAndGlyphs">ACA</text>
<text transform="translate(30.82,229.8) rotate(-90)" text-anchor="end" font-size="5" font-weight="bold" fill="#444" textLength="8.4" lengthAdjust="spacingAndGlyphs">CCA</text>
<text transform="translate(35.90,229.8) rotate(-90)" text-anchor="end" font-size="5" font-weight="bold" fill="#444" textLength="8.4" lengthAdjust="spacingAndGlyphs">GCA</text>
<text transform="translate(40.98,229.8) rotate(-90)" text-anchor="end" font-size="5" font-weight="bold" fill="#444" textLength="8.4" lengthAdjust="spacingAndGlyphs">TCA</text>
<text transform="translate(46.06,229.8) rotate(-90)" text-anchor="end" font-size="5" font-weight="bold" fill="#444" textLength="8.4" lengthAdjust="spacingAndGlyphs">ACC</text>
<text transform="translate(51.14,229.8) rotate(-90)" text-anchor="end" font-size="5" font-weight="bold" fill="#444" textLength="8.4" lengthAdjust="spacingAndGlyphs">CCC</text>
<text transform="translate(56.22,229.8) rotate(-90)" text-anchor="end" font-size="5" font-weight="bold" fill="#444" textLength="8.4" lengthAdjust="spacingAndGlyphs">GCC</text>
<text transform="translate(61.30,229.8) rotate(-90)" text-anchor="end" font-size="5" font-weight="bold" fill="#444" textLength="8.4" lengthAdjust="spacingAndGlyphs">TCC</text>
<text transform="translate(66.38,229.8) rotate(-90)" text-anchor="end" font-size="5" font-weight="bold" fill="#444" textLength="8.4" lengthAdjust="spacingAndGlyphs">ACG</text>
<text transform="translate(71.46,229.8) rotate(-90)" text-anchor="end" font-size="5" font-weight="bold" fill="#444" textLength="8.4" lengthAdjust="spacingAndGlyphs">CCG</text>
<text transform="translate(76.54,229.8) rotate(-90)" text-anchor="end" font-size="5" font-weight="bold" fill="#444" textLength="8.4" lengthAdjust="spacingAndGlyphs">GCG</text>
<text transform="translate(81.62,229.8) rotate(-90)" text-anchor="end" font-size="5" font-weight="bold" fill="#444" textLength="8.4" lengthAdjust="spacingAndGlyphs">TCG</text>
<text transform="translate(86.70,229.8) rotate(-90)" text-anchor="end" font-size="5" font-weight="bold" fill="#444" textLength="8.4" lengthAdjust="spacingAndGlyphs">ACT</text>
<text transform="translate(91.78,229.8) rotate(-90)" text-anchor="end" font-size="5" font-weight="bold" fill="#444" textLength="8.4" lengthAdjust="spacingAndGlyphs">CCT</text>
<text transform="translate(96.86,229.8) rotate(-90)" text-anchor="end" font-size="5" font-weight="bold" fill="#444" textLength="8.4" lengthAdjust="spacingAndGlyphs">GCT</text>
<text transform="translate(101.94,229.8) rotate(-90)" text-anchor="end" font-size="5" font-weight="bold" fill="#444" textLength="8.4" lengthAdjust="spacingAndGlyphs">TCT</text>
<text transform="translate(107.02,229.8) rotate(-90)" text-anchor="end" font-size="5" font-weight="bold" fill="#444" textLength="8.4" lengthAdjust="spacingAndGlyphs">ACA</text>
<text transform="translate(112.10,229.8) rotate(-90)" text-anchor="end" font-size="5" font-weight="bold" fill="#444" textLength="8.4" lengthAdjust="spacingAndGlyphs">CCA</text>
<text transform="translate(117.18,229.8) rotate(-90)" text-anchor="end" font-size="5" font-weight="bold" fill="#444" textLength="8.4" lengthAdjust="spacingAndGlyphs">GCA</text>
<text transform="translate(122.26,229.8) rotate(-90)" text-anchor="end" font-size="5" font-weight="bold" fill="#444" textLength="8.4" lengthAdjust="spacingAndGlyphs">TCA</text>
<text transform="translate(127.34,229.8) rotate(-90)" text-anchor="end" font-size="5" font-weight="bold" fill="#444" textLength="8.4" lengthAdjust="spacingAndGlyphs">ACC</text>
<text transform="translate(132.42,229.8) rotate(-90)" text-anchor="end" font-size="5" font-weight="bold" fill="#444" textLength="8.4" lengthAdjust="spacingAndGlyphs">CCC</text>
<text transform="translate(137.50,229.8) rotate(-90)" text-anchor="end" font-size="5" font-weight="bold" fill="#444" textLength="8.4" lengthAdjust="spacingAndGlyphs">GCC</text>
<text transform="translate(142.58,229.8) rotate(-90)" text-anchor="end" font-size="5" font-weight="bold" fill="#444" textLength="8.4" lengthAdjust="spacingAndGlyphs">TCC</text>
<text transform="translate(147.66,229.8) rotate(-90)" text-anchor="end" font-size="5" font-weight="bold" fill="#444" textLength="8.4" lengthAdjust="spacingAndGlyphs">ACG</text>
<text transform="translate(152.74,229.8) rotate(-90)" text-anchor="end" font-size="5" font-weight="bold" fill="#444" textLength="8.4" lengthAdjust="spacingAndGlyphs">CCG</text>
<text transform="translate(157.82,229.8) rotate(-90)" text-anchor="end" font-size="5" font-weight="bold" fill="#444" textLength="8.4" lengthAdjust="spacingAndGlyphs">GCG</text>
<text transform="translate(162.90,229.8) rotate(-90)" text-anchor="end" font-size="5" font-weight="bold" fill="#444" textLength="8.4" lengthAdjust="spacingAndGlyphs">TCG</text>
<text transform="translate(167.98,229.8) rotate(-90)" text-anchor="end" font-size="5" font-weight="bold" fill="#444" textLength="8.4" lengthAdjust="spacingAndGlyphs">ACT</text>
<text transform="translate(173.06,229.8) rotate(-90)" text-anchor="end" font-size="5" font-weight="bold" fill="#444" textLength="8.4" lengthAdjust="spacingAndGlyphs">CCT</text>
<text transform="translate(178.14,229.8) rotate(-90)" text-anchor="end" font-size="5" font-weight="bold" fill="#444" textLength="8.4" lengthAdjust="spacingAndGlyphs">GCT</text>
<text transform="translate(183.22,229.8) rotate(-90)" text-anchor="end" font-size="5" font-weight="bold" fill="#444" textLength="8.4" lengthAdjust="spacingAndGlyphs">TCT</text>
<text transform="translate(188.30,229.8) rotate(-90)" text-anchor="end" font-size="5" font-weight="bold" fill="#444" textLength="8.4" lengthAdjust="spacingAndGlyphs">ACA</text>
<text transform="translate(193.38,229.8) rotate(-90)" text-anchor="end" font-size="5" font-weight="bold" fill="#444" textLength="8.4" lengthAdjust="spacingAndGlyphs">CCA</text>
<text transform="translate(198.46,229.8) rotate(-90)" text-anchor="end" font-size="5" font-weight="bold" fill="#444" textLength="8.4" lengthAdjust="spacingAndGlyphs">GCA</text>
<text transform="translate(203.54,229.8) rotate(-90)" text-anchor="end" font-size="5" font-weight="bold" fill="#444" textLength="8.4" lengthAdjust="spacingAndGlyphs">TCA</text>
<text transform="translate(208.62,229.8) rotate(-90)" text-anchor="end" font-size="5" font-weight="bold" fill="#444" textLength="8.4" lengthAdjust="spacingAndGlyphs">ACC</text>
<text transform="translate(213.70,229.8) rotate(-90)" text-anchor="end" font-size="5" font-weight="bold" fill="#444" textLength="8.4" lengthAdjust="spacingAndGlyphs">CCC</text>
<text transform="translate(218.78,229.8) rotate(-90)" text-anchor="end" font-size="5" font-weight="bold" fill="#444" textLength="8.4" lengthAdjust="spacingAndGlyphs">GCC</text>
<text transform="translate(223.86,229.8) rotate(-90)" text-anchor="end" font-size="5" font-weight="bold" fill="#444" textLength="8.4" lengthAdjust="spacingAndGlyphs">TCC</text>
<text transform="translate(228.94,229.8) rotate(-90)" text-anchor="end" font-size="5" font-weight="bold" fill="#444" textLength="8.4" lengthAdjust="spacingAndGlyphs">ACG</text>
<text transform="translate(234.02,229.8) rotate(-90)" text-anchor="end" font-size="5" font-weight="bold" fill="#444" textLength="8.4" lengthAdjust="spacingAndGlyphs">CCG</text>
<text transform="translate(239.10,229.8) rotate(-90)" text-anchor="end" font-size="5" font-weight="bold" fill="#444" textLength="8.4" lengthAdjust="spacingAndGlyphs">GCG</text>
<text transform="translate(244.18,229.8) rotate(-90)" text-anchor="end" font-size="5" font-weight="bold" fill="#444" textLength="8.4" lengthAdjust="spacingAndGlyphs">TCG</text>
<text transform="translate(249.26,229.8) rotate(-90)" text-anchor="end" font-size="5" font-weight="bold" fill="#444" textLength="8.4" lengthAdjust="spacingAndGlyphs">ACT</text>
<text transform="translate(254.34,229.8) rotate(-90)" text-anchor="end" font-size="5" font-weight="bold" fill="#444" textLength="8.4" lengthAdjust="spacingAndGlyphs">CCT</text>
<text transform="translate(259.42,229.8) rotate(-90)" text-anchor="end" font-size="5" font-weight="bold" fill="#444" textLength="8.4" lengthAdjust="spacingAndGlyphs">GCT</text>
<text transform="translate(264.50,229.8) rotate(-90)" text-anchor="end" font-size="5" font-weight="bold" fill="#444" textLength="8.4" lengthAdjust="spacingAndGlyphs">TCT</text>
<text transform="translate(269.58,229.8) rotate(-90)" text-anchor="end" font-size="5" font-weight="bold" fill="#444" textLength="8.4" lengthAdjust="spacingAndGlyphs">ATA</text>
<text transform="translate(274.66,229.8) rotate(-90)" text-anchor="end" font-size="5" font-weight="bold" fill="#444" textLength="8.4" lengthAdjust="spacingAndGlyphs">CTA</text>
<text transform="translate(279.74,229.8) rotate(-90)" text-anchor="end" font-size="5" font-weight="bold" fill="#444" textLength="8.4" lengthAdjust="spacingAndGlyphs">GTA</text>
<text transform="translate(284.82,229.8) rotate(-90)" text-anchor="end" font-size="5" font-weight="bold" fill="#444" textLength="8.4" lengthAdjust="spacingAndGlyphs">TTA</text>
<text transform="translate(289.90,229.8) rotate(-90)" text-anchor="end" font-size="5" font-weight="bold" fill="#444" textLength="8.4" lengthAdjust="spacingAndGlyphs">ATC</text>
<text transform="translate(294.98,229.8) rotate(-90)" text-anchor="end" font-size="5" font-weight="bold" fill="#444" textLength="8.4" lengthAdjust="spacingAndGlyphs">CTC</text>
<text transform="translate(300.06,229.8) rotate(-90)" text-anchor="end" font-size="5" font-weight="bold" fill="#444" textLength="8.4" lengthAdjust="spacingAndGlyphs">GTC</text>
<text transform="translate(305.14,229.8) rotate(-90)" text-anchor="end" font-size="5" font-weight="bold" fill="#444" textLength="8.4" lengthAdjust="spacingAndGlyphs">TTC</text>
<text transform="translate(310.22,229.8) rotate(-90)" text-anchor="end" font-size="5" font-weight="bold" fill="#444" textLength="8.4" lengthAdjust="spacingAndGlyphs">ATG</text>
<text transform="translate(315.30,229.8) rotate(-90)" text-anchor="end" font-size="5" font-weight="bold" fill="#444" textLength="8.4" lengthAdjust="spacingAndGlyphs">CTG</text>
<text transform="translate(320.38,229.8) rotate(-90)" text-anchor="end" font-size="5" font-weight="bold" fill="#444" textLength="8.4" lengthAdjust="spacingAndGlyphs">GTG</text>
<text transform="translate(325.46,229.8) rotate(-90)" text-anchor="end" font-size="5" font-weight="bold" fill="#444" textLength="8.4" lengthAdjust="spacingAndGlyphs">TTG</text>
<text transform="translate(330.54,229.8) rotate(-90)" text-anchor="end" font-size="5" font-weight="bold" fill="#444" textLength="8.4" lengthAdjust="spacingAndGlyphs">ATT</text>
<text transform="translate(335.62,229.8) rotate(-90)" text-anchor="end" font-size="5" font-weight="bold" fill="#444" textLength="8.4" lengthAdjust="spacingAndGlyphs">CTT</text>
<text transform="translate(340.70,229.8) rotate(-90)" text-anchor="end" font-size="5" font-weight="bold" fill="#444" textLength="8.4" lengthAdjust="spacingAndGlyphs">GTT</text>
<text transform="translate(345.78,229.8) rotate(-90)" text-anchor="end" font-size="5" font-weight="bold" fill="#444" textLength="8.4" lengthAdjust="spacingAndGlyphs">TTT</text>
<text transform="translate(350.86,229.8) rotate(-90)" text-anchor="end" font-size="5" font-weight="bold" fill="#444" textLength="8.4" lengthAdjust="spacingAndGlyphs">ATA</text>
<text transform="translate(355.94,229.8) rotate(-90)" text-anchor="end" font-size="5" font-weight="bold" fill="#444" textLength="8.4" lengthAdjust="spacingAndGlyphs">CTA</text>
<text transform="translate(361.02,229.8) rotate(-90)" text-anchor="end" font-size="5" font-weight="bold" fill="#444" textLength="8.4" lengthAdjust="spacingAndGlyphs">GTA</text>
<text transform="translate(366.10,229.8) rotate(-90)" text-anchor="end" font-size="5" font-weight="bold" fill="#444" textLength="8.4" lengthAdjust="spacingAndGlyphs">TTA</text>
<text transform="translate(371.18,229.8) rotate(-90)" text-anchor="end" font-size="5" font-weight="bold" fill="#444" textLength="8.4" lengthAdjust="spacingAndGlyphs">ATC</text>
<text transform="translate(376.26,229.8) rotate(-90)" text-anchor="end" font-size="5" font-weight="bold" fill="#444" textLength="8.4" lengthAdjust="spacingAndGlyphs">CTC</text>
<text transform="translate(381.34,229.8) rotate(-90)" text-anchor="end" font-size="5" font-weight="bold" fill="#444" textLength="8.4" lengthAdjust="spacingAndGlyphs">GTC</text>
<text transform="translate(386.42,229.8) rotate(-90)" text-anchor="end" font-size="5" font-weight="bold" fill="#444" textLength="8.4" lengthAdjust="spacingAndGlyphs">TTC</text>
<text transform="translate(391.50,229.8) rotate(-90)" text-anchor="end" font-size="5" font-weight="bold" fill="#444" textLength="8.4" lengthAdjust="spacingAndGlyphs">ATG</text>
<text transform="translate(396.58,229.8) rotate(-90)" text-anchor="end" font-size="5" font-weight="bold" fill="#444" textLength="8.4" lengthAdjust="spacingAndGlyphs">CTG</text>
<text transform="translate(401.66,229.8) rotate(-90)" text-anchor="end" font-size="5" font-weight="bold" fill="#444" textLength="8.4" lengthAdjust="spacingAndGlyphs">GTG</text>
<text transform="translate(406.74,229.8) rotate(-90)" text-anchor="end" font-size="5" font-weight="bold" fill="#444" textLength="8.4" lengthAdjust="spacingAndGlyphs">TTG</text>
<text transform="translate(411.82,229.8) rotate(-90)" text-anchor="end" font-size="5" font-weight="bold" fill="#444" textLength="8.4" lengthAdjust="spacingAndGlyphs">ATT</text>
<text transform="translate(416.90,229.8) rotate(-90)" text-anchor="end" font-size="5" font-weight="bold" fill="#444" textLength="8.4" lengthAdjust="spacingAndGlyphs">CTT</text>
<text transform="translate(421.98,229.8) rotate(-90)" text-anchor="end" font-size="5" font-weight="bold" fill="#444" textLength="8.4" lengthAdjust="spacingAndGlyphs">GTT</text>
<text transform="translate(427.06,229.8) rotate(-90)" text-anchor="end" font-size="5" font-weight="bold" fill="#444" textLength="8.4" lengthAdjust="spacingAndGlyphs">TTT</text>
<text transform="translate(432.14,229.8) rotate(-90)" text-anchor="end" font-size="5" font-weight="bold" fill="#444" textLength="8.4" lengthAdjust="spacingAndGlyphs">ATA</text>
<text transform="translate(437.22,229.8) rotate(-90)" text-anchor="end" font-size="5" font-weight="bold" fill="#444" textLength="8.4" lengthAdjust="spacingAndGlyphs">CTA</text>
<text transform="translate(442.30,229.8) rotate(-90)" text-anchor="end" font-size="5" font-weight="bold" fill="#444" textLength="8.4" lengthAdjust="spacingAndGlyphs">GTA</text>
<text transform="translate(447.38,229.8) rotate(-90)" text-anchor="end" font-size="5" font-weight="bold" fill="#444" textLength="8.4" lengthAdjust="spacingAndGlyphs">TTA</text>
<text transform="translate(452.46,229.8) rotate(-90)" text-anchor="end" font-size="5" font-weight="bold" fill="#444" textLength="8.4" lengthAdjust="spacingAndGlyphs">ATC</text>
<text transform="translate(457.54,229.8) rotate(-90)" text-anchor="end" font-size="5" font-weight="bold" fill="#444" textLength="8.4" lengthAdjust="spacingAndGlyphs">CTC</text>
<text transform="translate(462.62,229.8) rotate(-90)" text-anchor="end" font-size="5" font-weight="bold" fill="#444" textLength="8.4" lengthAdjust="spacingAndGlyphs">GTC</text>
<text transform="translate(467.70,229.8) rotate(-90)" text-anchor="end" font-size="5" font-weight="bold" fill="#444" textLength="8.4" lengthAdjust="spacingAndGlyphs">TTC</text>
<text transform="translate(472.78,229.8) rotate(-90)" text-anchor="end" font-size="5" font-weight="bold" fill="#444" textLength="8.4" lengthAdjust="spacingAndGlyphs">ATG</text>
<text transform="translate(477.86,229.8) rotate(-90)" text-anchor="end" font-size="5" font-weight="bold" fill="#444" textLength="8.4" lengthAdjust="spacingAndGlyphs">CTG</text>
<text transform="translate(482.94,229.8) rotate(-90)" text-anchor="end" font-size="5" font-weight="bold" fill="#444" textLength="8.4" lengthAdjust="spacingAndGlyphs">GTG</text>
<text transform="translate(488.02,229.8) rotate(-90)" text-anchor="end" font-size="5" font-weight="bold" fill="#444" textLength="8.4" lengthAdjust="spacingAndGlyphs">TTG</text>
<text transform="translate(493.10,229.8) rotate(-90)" text-anchor="end" font-size="5" font-weight="bold" fill="#444" textLength="8.4" lengthAdjust="spacingAndGlyphs">ATT</text>
<text transform="translate(498.18,229.8) rotate(-90)" text-anchor="end" font-size="5" font-weight="bold" fill="#444" textLength="8.4" lengthAdjust="spacingAndGlyphs">CTT</text>
<text transform="translate(503.26,229.8) rotate(-90)" text-anchor="end" font-size="5" font-weight="bold" fill="#444" textLength="8.4" lengthAdjust="spacingAndGlyphs">GTT</text>
<text transform="translate(508.34,229.8) rotate(-90)" text-anchor="end" font-size="5" font-weight="bold" fill="#444" textLength="8.4" lengthAdjust="spacingAndGlyphs">TTT</text>
<text class="b" x="59.5" y="251.2" font-size="8" text-anchor="middle" fill="#222">C &gt; A</text>
<rect x="19" y="261" width="81" height="8" fill="#62a5dc"/>
<text class="b" x="142.0" y="251.2" font-size="8" text-anchor="middle" fill="#222">C &gt; G</text>
<rect x="101.5" y="261" width="81.0" height="8" fill="#5b1f6b"/>
<text class="b" x="224.5" y="251.2" font-size="8" text-anchor="middle" fill="#222">C &gt; T</text>
<rect x="184" y="261" width="81" height="8" fill="#a8083a"/>
<text class="b" x="307.5" y="251.2" font-size="8" text-anchor="middle" fill="#222">T &gt; A</text>
<rect x="267" y="261" width="81" height="8" fill="#bebebe"/>
<text class="b" x="390.0" y="251.2" font-size="8" text-anchor="middle" fill="#222">T &gt; C</text>
<rect x="349.5" y="261" width="81.0" height="8" fill="#66ab3c"/>
<text class="b" x="472.5" y="251.2" font-size="8" text-anchor="middle" fill="#222">T &gt; G</text>
<rect x="432" y="261" width="81" height="8" fill="#c4007a"/>
<text x="24.8" y="294.8" font-size="11" font-weight="bold" fill="#000">B</text>
<text class="b" x="25.6" y="344.6" font-size="9.4" fill="#222" textLength="74" lengthAdjust="spacingAndGlyphs">K=2: Signature_1</text>
<rect x="103.9" y="339" width="31" height="50" fill="#6cb13c"/>
<rect x="103.9" y="339" width="24" height="36" fill="#c0002c"/>
<rect x="103.9" y="375" width="24" height="2.4" fill="#c8741e"/>
<rect x="127.9" y="339" width="7" height="8" fill="#c8741e"/>
<rect x="127.9" y="347" width="7" height="22.6" fill="#2c4c8c"/>
<text x="115.8" y="361.3" font-size="9.5" text-anchor="middle" fill="#f5a6b8">T</text>
<rect x="186.3" y="368.2" width="7.4" height="20.5" fill="#2f6450"/>
<rect x="195" y="359.3" width="7.7" height="29.4" fill="#5e1e78"/>
<text x="190" y="381" font-size="7" text-anchor="middle" fill="#dfe">+</text>
<text x="198.8" y="375.6" font-size="7" text-anchor="middle" fill="#e8d0f0">-</text>
<polygon points="118.6,401.4 129.4,414.4 124.1,414.4 124.1,426.4 113,426.4 113,414.4 108,414.4" fill="#808080"/>
<rect x="25.40" y="438.7" width="8.10" height="50" fill="#6cb13c"/>
<rect x="33.50" y="438.7" width="6.30" height="50" fill="#2c4c8c"/>
<rect x="39.80" y="438.7" width="10.00" height="50" fill="#c8741e"/>
<rect x="49.80" y="438.7" width="6.70" height="50" fill="#c0002c"/>
<text x="30" y="466.9" font-size="9.2" text-anchor="middle" fill="#e8f5d0">A</text>
<text x="45.4" y="466.9" font-size="9.2" text-anchor="middle" fill="#f5dcb0">G</text>
<rect x="64.20" y="438.7" width="12.90" height="50" fill="#6cb13c"/>
<rect x="77.10" y="438.7" width="6.40" height="50" fill="#2c4c8c"/>
<rect x="83.50" y="438.7" width="8.20" height="50" fill="#c8741e"/>
<rect x="91.70" y="438.7" width="3.90" height="50" fill="#c0002c"/>
<text x="70" y="466.9" font-size="9.2" text-anchor="middle" fill="#e8f5d0">A</text>
<text x="87.7" y="466.9" font-size="9.2" text-anchor="middle" fill="#f5dcb0">G</text>
<rect x="103.50" y="438.7" width="24.80" height="50" fill="#2c4c8c"/>
<rect x="128.30" y="438.7" width="6.70" height="50" fill="#c0002c"/>
<text x="115.8" y="466.9" font-size="9.2" text-anchor="middle" fill="#cfdcf2">C</text>
<rect x="142.30" y="438.7" width="4.80" height="50" fill="#6cb13c"/>
<rect x="147.10" y="438.7" width="10.00" height="50" fill="#2c4c8c"/>
<rect x="157.10" y="438.7" width="14.10" height="50" fill="#c8741e"/>
<rect x="171.20" y="438.7" width="2.80" height="50" fill="#c0002c"/>
<text x="152" y="466.9" font-size="9.2" text-anchor="middle" fill="#cfdcf2">C</text>
<text x="164.4" y="466.9" font-size="9.2" text-anchor="middle" fill="#f5dcb0">G</text>
<rect x="181.60" y="438.7" width="9.40" height="50" fill="#6cb13c"/>
<rect x="191.00" y="438.7" width="6.60" height="50" fill="#2c4c8c"/>
<rect x="197.60" y="438.7" width="10.30" height="50" fill="#c8741e"/>
<rect x="207.90" y="438.7" width="4.80" height="50" fill="#c0002c"/>
<text x="186.7" y="466.9" font-size="9.2" text-anchor="middle" fill="#e8f5d0">A</text>
<text x="202.8" y="466.9" font-size="9.2" text-anchor="middle" fill="#f5dcb0">G</text>
<text x="228.4" y="294.6" font-size="11" font-weight="bold" fill="#000">C</text>
<line x1="256.6" y1="295.7" x2="256.6" y2="455.8" stroke="#000" stroke-width="1.2"/>
<line x1="253.4" y1="455.20" x2="256.6" y2="455.20" stroke="#000" stroke-width="1"/>
<text class="b" x="246.30" y="458.15" font-size="8.5" fill="#222" textLength="4.0" lengthAdjust="spacingAndGlyphs">0</text>
<line x1="253.4" y1="429.10" x2="256.6" y2="429.10" stroke="#000" stroke-width="1"/>
<text class="b" x="246.30" y="432.05" font-size="8.5" fill="#222" textLength="4.0" lengthAdjust="spacingAndGlyphs">5</text>
<line x1="253.4" y1="403.00" x2="256.6" y2="403.00" stroke="#000" stroke-width="1"/>
<text class="b" x="242.00" y="405.95" font-size="8.5" fill="#222" textLength="8.3" lengthAdjust="spacingAndGlyphs">10</text>
<line x1="253.4" y1="376.90" x2="256.6" y2="376.90" stroke="#000" stroke-width="1"/>
<text class="b" x="242.00" y="379.85" font-size="8.5" fill="#222" textLength="8.3" lengthAdjust="spacingAndGlyphs">15</text>
<line x1="253.4" y1="350.80" x2="256.6" y2="350.80" stroke="#000" stroke-width="1"/>
<text class="b" x="242.00" y="353.75" font-size="8.5" fill="#222" textLength="8.3" lengthAdjust="spacingAndGlyphs">20</text>
<line x1="253.4" y1="324.70" x2="256.6" y2="324.70" stroke="#000" stroke-width="1"/>
<text class="b" x="242.00" y="327.65" font-size="8.5" fill="#222" textLength="8.3" lengthAdjust="spacingAndGlyphs">25</text>
<line x1="253.4" y1="298.60" x2="256.6" y2="298.60" stroke="#000" stroke-width="1"/>
<text class="b" x="242.00" y="301.55" font-size="8.5" fill="#222" textLength="8.3" lengthAdjust="spacingAndGlyphs">30</text>
<text class="b" transform="translate(236.6,375) rotate(-90)" font-size="8.6" text-anchor="middle" fill="#222" textLength="72.6" lengthAdjust="spacingAndGlyphs">Number of mutations</text>
<rect x="269.9" y="309.04" width="8" height="146.16" fill="#b2012d"/>
<rect x="269.9" y="406.29" width="8" height="48.91" fill="#2d4f8e"/>
<text transform="translate(260.42,480.08) rotate(-45)" font-size="7.9" fill="#222" stroke="#222" stroke-width="0.1" textLength="25.0" lengthAdjust="spacingAndGlyphs">UPN01</text>
<rect x="282" y="324.70" width="8" height="130.50" fill="#b2012d"/>
<rect x="282" y="423.88" width="8" height="31.32" fill="#2d4f8e"/>
<text transform="translate(272.52,480.08) rotate(-45)" font-size="7.9" fill="#222" stroke="#222" stroke-width="0.1" textLength="25.0" lengthAdjust="spacingAndGlyphs">UPN03</text>
<rect x="294" y="361.24" width="8" height="93.96" fill="#b2012d"/>
<rect x="294" y="436.41" width="8" height="18.79" fill="#2d4f8e"/>
<text transform="translate(284.52,480.08) rotate(-45)" font-size="7.9" fill="#222" stroke="#222" stroke-width="0.1" textLength="25.0" lengthAdjust="spacingAndGlyphs">UPN07</text>
<rect x="306.2" y="413.44" width="8" height="41.76" fill="#b2012d"/>
<rect x="306.2" y="451.02" width="8" height="4.18" fill="#2d4f8e"/>
<text transform="translate(296.72,480.08) rotate(-45)" font-size="7.9" fill="#222" stroke="#222" stroke-width="0.1" textLength="25.0" lengthAdjust="spacingAndGlyphs">UPN13</text>
<rect x="318.3" y="361.24" width="8" height="93.96" fill="#b2012d"/>
<rect x="318.3" y="423.88" width="8" height="31.32" fill="#2d4f8e"/>
<text transform="translate(308.82,480.08) rotate(-45)" font-size="7.9" fill="#222" stroke="#222" stroke-width="0.1" textLength="25.0" lengthAdjust="spacingAndGlyphs">UPN18</text>
<rect x="330.5" y="324.70" width="8" height="130.50" fill="#b2012d"/>
<rect x="330.5" y="409.52" width="8" height="45.67" fill="#2d4f8e"/>
<text transform="translate(321.02,480.08) rotate(-45)" font-size="7.9" fill="#222" stroke="#222" stroke-width="0.1" textLength="25.0" lengthAdjust="spacingAndGlyphs">UPN19</text>
<rect x="342.7" y="324.70" width="8" height="130.50" fill="#b2012d"/>
<rect x="342.7" y="419.70" width="8" height="35.50" fill="#2d4f8e"/>
<text transform="translate(333.22,480.08) rotate(-45)" font-size="7.9" fill="#222" stroke="#222" stroke-width="0.1" textLength="25.0" lengthAdjust="spacingAndGlyphs">UPN21</text>
<rect x="365.6" y="423.88" width="8" height="31.32" fill="#b2012d"/>
<rect x="365.6" y="435.62" width="8" height="19.57" fill="#2d4f8e"/>
<text transform="translate(356.26,479.94) rotate(-45)" font-size="7.9" fill="#222" stroke="#222" stroke-width="0.1" textLength="24.8" lengthAdjust="spacingAndGlyphs">MDS01</text>
<rect x="377.7" y="397.78" width="8" height="57.42" fill="#b2012d"/>
<rect x="377.7" y="404.04" width="8" height="51.16" fill="#2d4f8e"/>
<text transform="translate(368.36,479.94) rotate(-45)" font-size="7.9" fill="#222" stroke="#222" stroke-width="0.1" textLength="24.8" lengthAdjust="spacingAndGlyphs">MDS02</text>
<rect x="389.8" y="408.22" width="8" height="46.98" fill="#b2012d"/>
<rect x="389.8" y="408.22" width="8" height="46.98" fill="#2d4f8e"/>
<text transform="translate(380.46,479.94) rotate(-45)" font-size="7.9" fill="#222" stroke="#222" stroke-width="0.1" textLength="24.8" lengthAdjust="spacingAndGlyphs">MDS03</text>
<rect x="401.9" y="413.44" width="8" height="41.76" fill="#b2012d"/>
<rect x="401.9" y="413.44" width="8" height="41.76" fill="#2d4f8e"/>
<text transform="translate(392.56,479.94) rotate(-45)" font-size="7.9" fill="#222" stroke="#222" stroke-width="0.1" textLength="24.8" lengthAdjust="spacingAndGlyphs">MDS04</text>
<rect x="414.0" y="418.66" width="8" height="36.54" fill="#b2012d"/>
<rect x="414.0" y="418.66" width="8" height="36.54" fill="#2d4f8e"/>
<text transform="translate(404.66,479.94) rotate(-45)" font-size="7.9" fill="#222" stroke="#222" stroke-width="0.1" textLength="24.8" lengthAdjust="spacingAndGlyphs">MDS05</text>
<rect x="426.1" y="429.10" width="8" height="26.10" fill="#b2012d"/>
<rect x="426.1" y="434.32" width="8" height="20.88" fill="#2d4f8e"/>
<text transform="translate(416.76,479.94) rotate(-45)" font-size="7.9" fill="#222" stroke="#222" stroke-width="0.1" textLength="24.8" lengthAdjust="spacingAndGlyphs">MDS06</text>
<rect x="438.3" y="350.80" width="8" height="104.40" fill="#b2012d"/>
<rect x="438.3" y="393.08" width="8" height="62.12" fill="#2d4f8e"/>
<text transform="translate(428.96,479.94) rotate(-45)" font-size="7.9" fill="#222" stroke="#222" stroke-width="0.1" textLength="24.8" lengthAdjust="spacingAndGlyphs">MDS07</text>
<rect x="450.4" y="413.44" width="8" height="41.76" fill="#b2012d"/>
<rect x="450.4" y="413.44" width="8" height="41.76" fill="#2d4f8e"/>
<text transform="translate(441.06,479.94) rotate(-45)" font-size="7.9" fill="#222" stroke="#222" stroke-width="0.1" textLength="24.8" lengthAdjust="spacingAndGlyphs">MDS08</text>
<rect x="462.5" y="371.68" width="8" height="83.52" fill="#b2012d"/>
<rect x="462.5" y="388.12" width="8" height="67.08" fill="#2d4f8e"/>
<text transform="translate(453.16,479.94) rotate(-45)" font-size="7.9" fill="#222" stroke="#222" stroke-width="0.1" textLength="24.8" lengthAdjust="spacingAndGlyphs">MDS09</text>
<rect x="474.6" y="413.44" width="8" height="41.76" fill="#b2012d"/>
<rect x="474.6" y="438.50" width="8" height="16.70" fill="#2d4f8e"/>
<text transform="translate(465.26,479.94) rotate(-45)" font-size="7.9" fill="#222" stroke="#222" stroke-width="0.1" textLength="24.8" lengthAdjust="spacingAndGlyphs">MDS10</text>
<rect x="486.7" y="371.68" width="8" height="83.52" fill="#b2012d"/>
<rect x="486.7" y="388.64" width="8" height="66.55" fill="#2d4f8e"/>
<text transform="translate(477.36,479.94) rotate(-45)" font-size="7.9" fill="#222" stroke="#222" stroke-width="0.1" textLength="24.8" lengthAdjust="spacingAndGlyphs">MDS11</text>
<line x1="256" y1="455.2" x2="505.3" y2="455.2" stroke="#000" stroke-width="1.3"/>
<line x1="268.1" y1="484.7" x2="352.3" y2="484.7" stroke="#000" stroke-width="1.4"/>
<line x1="364.2" y1="484.7" x2="496.5" y2="484.7" stroke="#000" stroke-width="1.4"/>
<text class="b" x="310.2" y="497" font-size="8.5" text-anchor="middle" fill="#222">tMN</text>
<text class="b" x="405.8" y="497" font-size="8.5" fill="#222" textLength="49.2" lengthAdjust="spacingAndGlyphs">de novo MDS</text>
<rect x="447.7" y="295.8" width="9.5" height="9.6" fill="#2d4f8e"/>
<rect x="447.7" y="309.2" width="9.5" height="9.6" fill="#b2012d"/>
<text class="b" x="460.8" y="303.6" font-size="10" fill="#222" textLength="47.7" lengthAdjust="spacingAndGlyphs">Signature 1</text>
<text class="b" x="460.8" y="317.2" font-size="10" fill="#222">Other</text>
<rect x="0.6" y="0.6" width="518.8" height="504.8" fill="none" stroke="#000" stroke-width="1.2"/>
</svg></body></html>
